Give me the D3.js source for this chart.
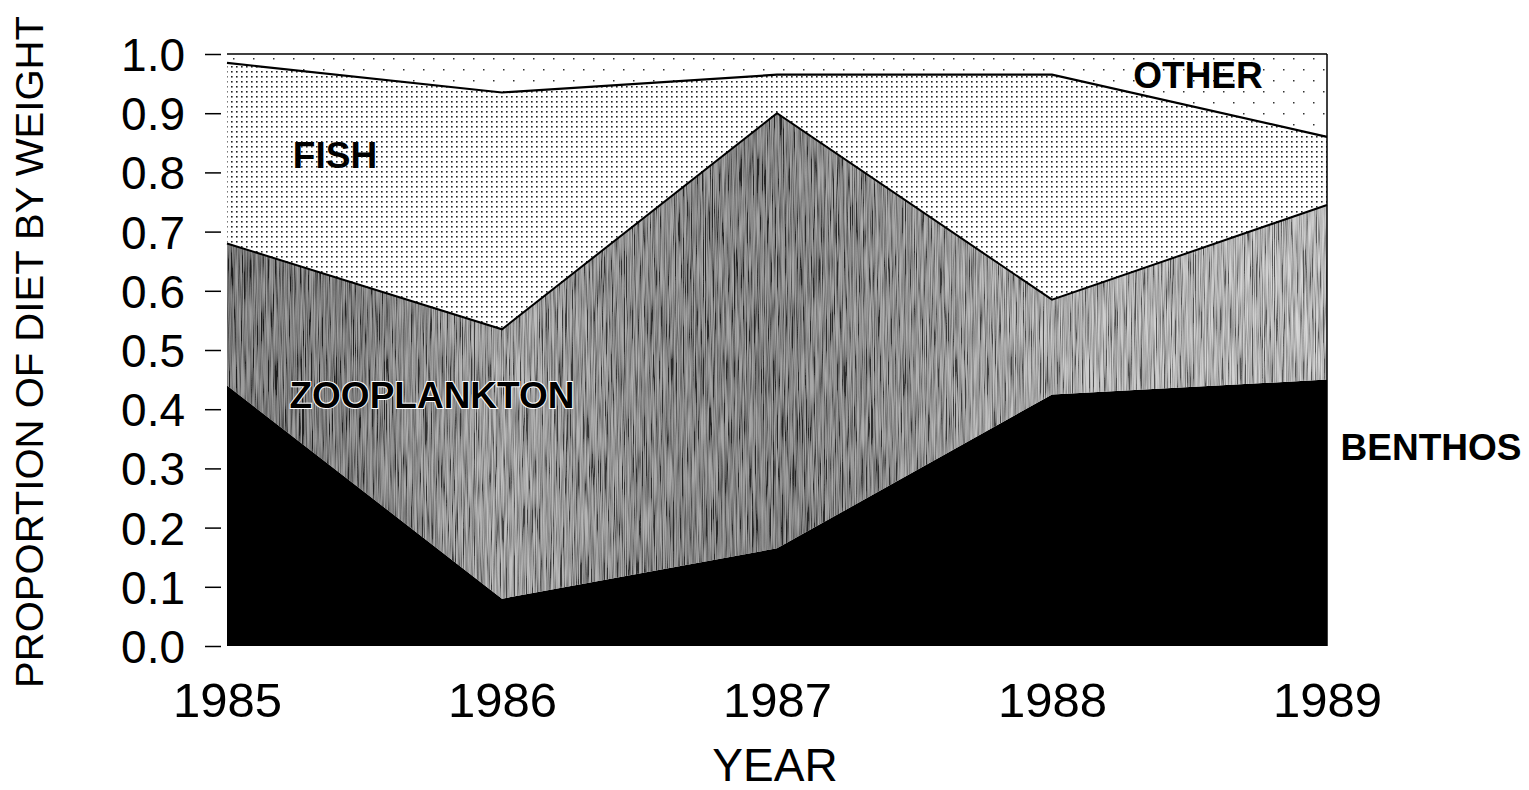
<!DOCTYPE html>
<html>
<head>
<meta charset="utf-8">
<script src="https://cdn.jsdelivr.net/npm/d3@7"></script>
<style>
  body { margin: 0; background: #fff; }
  svg { display: block; font-family: "Liberation Sans", Arial, sans-serif; }
</style>
</head>
<body>
<div id="chart"></div>
<script>
// data (proportion of diet by weight)
const years = [1985, 1986, 1987, 1988, 1989];
const benthos = [0.44, 0.08, 0.165, 0.425, 0.45];
const zooplankton = [0.24, 0.455, 0.735, 0.16, 0.295];
const fish = [0.305, 0.40, 0.065, 0.38, 0.115];
const other = [0.015, 0.065, 0.035, 0.035, 0.14];
const groups = ["benthos", "zooplankton", "fish", "other"];
const yTicks = [0, 0.1, 0.2, 0.3, 0.4, 0.5, 0.6, 0.7, 0.8, 0.9, 1.0];

const rows = years.map((yr, i) => ({
  year: yr, benthos: benthos[i], zooplankton: zooplankton[i], fish: fish[i], other: other[i]
}));

const W = 1529, H = 790;
const svg = d3.select("#chart").append("svg")
  .attr("width", W).attr("height", H);

const x = d3.scaleLinear().domain([1985, 1989]).range([227, 1327]);
const y = d3.scaleLinear().domain([0, 1]).range([646, 54]);

const series = d3.stack().keys(groups)(rows);

// textures
const defs = svg.append("defs");
const pFish = defs.append("pattern").attr("id", "pFish")
  .attr("patternUnits", "userSpaceOnUse").attr("width", 5).attr("height", 5);
pFish.append("rect").attr("width", 5).attr("height", 5).attr("fill", "#fff");
pFish.append("rect").attr("x", 1).attr("y", 1).attr("width", 1.6).attr("height", 1.6).attr("fill", "#222");

const pOther = defs.append("pattern").attr("id", "pOther")
  .attr("patternUnits", "userSpaceOnUse").attr("width", 20).attr("height", 22);
pOther.append("rect").attr("width", 20).attr("height", 22).attr("fill", "#fff");
pOther.append("rect").attr("x", 3).attr("y", 3).attr("width", 1.5).attr("height", 1.5).attr("fill", "#333");
pOther.append("rect").attr("x", 13).attr("y", 14).attr("width", 1.5).attr("height", 1.5).attr("fill", "#333");

const grad = defs.append("linearGradient").attr("id", "gZoo")
  .attr("gradientUnits", "userSpaceOnUse")
  .attr("x1", x(1985)).attr("x2", x(1989)).attr("y1", 0).attr("y2", 0);
[[0, "#3a3a3a"], [0.12, "#454545"], [0.25, "#858585"], [0.4, "#555"], [0.5, "#4a4a4a"],
 [0.62, "#666"], [0.75, "#999"], [1, "#b0b0b0"]]
  .forEach(s => grad.append("stop").attr("offset", s[0]).attr("stop-color", s[1]));

// streaky grain for the zooplankton band
const grain = defs.append("filter").attr("id", "grain")
  .attr("x", 0).attr("y", 0).attr("width", 1).attr("height", 1);
grain.append("feTurbulence").attr("type", "fractalNoise")
  .attr("baseFrequency", "0.9 0.02").attr("numOctaves", 2).attr("seed", 3);
grain.append("feColorMatrix").attr("type", "saturate").attr("values", 0);
const ct = grain.append("feComponentTransfer");
["feFuncR", "feFuncG", "feFuncB"].forEach(f =>
  ct.append(f).attr("type", "linear").attr("slope", 3.2).attr("intercept", -1.1));
ct.append("feFuncA").attr("type", "linear").attr("slope", 0).attr("intercept", 0.5);

const area = d3.area()
  .x(d => x(d.data.year))
  .y0(d => y(d[0]))
  .y1(d => y(d[1]));

defs.append("clipPath").attr("id", "zooClip")
  .append("path").datum(series[1]).attr("d", area);

const fills = { benthos: "#000", zooplankton: "url(#gZoo)", fish: "url(#pFish)", other: "url(#pOther)" };

svg.append("g").selectAll("path")
  .data(series)
  .join("path")
  .attr("d", area)
  .attr("fill", d => fills[d.key]);

svg.append("g").attr("clip-path", "url(#zooClip)")
  .append("rect")
  .attr("x", x(1985)).attr("y", y(1))
  .attr("width", x(1989) - x(1985)).attr("height", y(0) - y(1))
  .attr("filter", "url(#grain)");

// boundary lines
const line = d3.line().x(d => x(d.data.year)).y(d => y(d[1]));
svg.append("path").datum(series[1]).attr("d", line)
  .attr("fill", "none").attr("stroke", "#000").attr("stroke-width", 2);
svg.append("path").datum(series[2]).attr("d", line)
  .attr("fill", "none").attr("stroke", "#000").attr("stroke-width", 2.2);

// frame: top and right
svg.append("line").attr("x1", x(1985)).attr("x2", x(1989)).attr("y1", y(1)).attr("y2", y(1))
  .attr("stroke", "#000").attr("stroke-width", 1.5);
svg.append("line").attr("x1", x(1989)).attr("x2", x(1989)).attr("y1", y(1)).attr("y2", y(0))
  .attr("stroke", "#000").attr("stroke-width", 1.5);

// y axis
const yAxis = svg.append("g")
  .attr("transform", "translate(221,0)")
  .call(d3.axisLeft(y).tickValues(yTicks).tickFormat(d3.format(".1f")).tickSize(16).tickPadding(20));
yAxis.select(".domain").remove();
yAxis.selectAll(".tick line").attr("stroke", "#000").attr("stroke-width", 1.5);
yAxis.selectAll(".tick text")
  .attr("font-size", 46).attr("fill", "#000")
  .attr("font-family", "'Liberation Sans', Arial, sans-serif")
  .attr("dy", "0.36em");

// x axis labels
const xAxis = svg.append("g")
  .attr("transform", `translate(0,${y(0)})`)
  .call(d3.axisBottom(x).tickValues(years).tickFormat(d3.format("d")).tickSize(0).tickPadding(36));
xAxis.select(".domain").remove();
xAxis.selectAll(".tick text")
  .attr("font-size", 49).attr("fill", "#000")
  .attr("font-family", "'Liberation Sans', Arial, sans-serif")
  .attr("dy", "0.71em");

// axis titles
svg.append("text")
  .attr("x", 775).attr("y", 781)
  .attr("text-anchor", "middle")
  .attr("font-size", 46)
  .text("YEAR");

svg.append("text")
  .attr("transform", "translate(43,688) rotate(-90)")
  .attr("font-size", 38)
  .attr("textLength", 672)
  .attr("lengthAdjust", "spacingAndGlyphs")
  .text("PROPORTION OF DIET BY WEIGHT");

// category labels
const labels = [
  { text: "FISH", x: 335, y: 168, size: 37 },
  { text: "ZOOPLANKTON", x: 432, y: 408, size: 37 },
  { text: "OTHER", x: 1198, y: 88, size: 37 },
  { text: "BENTHOS", x: 1431, y: 460, size: 37 }
];
svg.append("g").selectAll("text")
  .data(labels)
  .join("text")
  .attr("x", d => d.x).attr("y", d => d.y)
  .attr("text-anchor", "middle")
  .attr("font-weight", "bold")
  .attr("font-size", d => d.size)
  .attr("fill", "#000")
  .attr("stroke", d => d.text === "ZOOPLANKTON" ? "#fff" : "none")
  .attr("stroke-width", 2)
  .attr("paint-order", "stroke")
  .text(d => d.text);
</script>
</body>
</html>
